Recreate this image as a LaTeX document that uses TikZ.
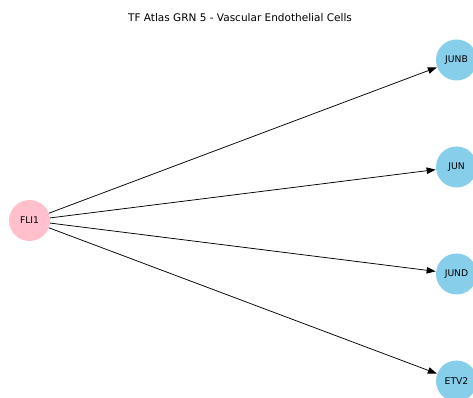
\documentclass[tikz,border=0pt]{standalone}
\usepackage{fontspec}
\setmainfont{DejaVu Sans}
\usetikzlibrary{arrows.meta}
\definecolor{srcpink}{HTML}{FFC0CB}
\definecolor{tgtblue}{HTML}{87CEEB}
\tikzset{
  gene/.style={circle, minimum size=41pt, inner sep=0pt, font=\fontsize{9.2}{11}\selectfont},
  srcgene/.style={gene, fill=srcpink},
  tgtgene/.style={gene, fill=tgtblue},
  edge/.style={draw=black, line width=0.75pt, -{Triangle[length=9pt,width=6.5pt]}, shorten >=0.3pt}
}
\begin{document}
\begin{tikzpicture}[x=1pt,y=1pt]
\useasboundingbox (0,0) rectangle (473,398);
\clip (0,0) rectangle (473,398);
\node[font=\fontsize{10.5}{12}\selectfont] (title) at (240,380) {TF Atlas GRN 5 - Vascular Endothelial Cells};
\node[srcgene] (fli1) at (29.5,177.5) {FLI1};
\node[tgtgene] (junb) at (456.5,338) {JUNB};
\node[tgtgene] (jun) at (456.5,231) {JUN};
\node[tgtgene] (jund) at (456.5,124) {JUND};
\node[tgtgene] (etv2) at (456.5,17) {ETV2};
\draw[edge] (fli1) -- (junb);
\draw[edge] (fli1) -- (jun);
\draw[edge] (fli1) -- (jund);
\draw[edge] (fli1) -- (etv2);
\end{tikzpicture}
\end{document}
